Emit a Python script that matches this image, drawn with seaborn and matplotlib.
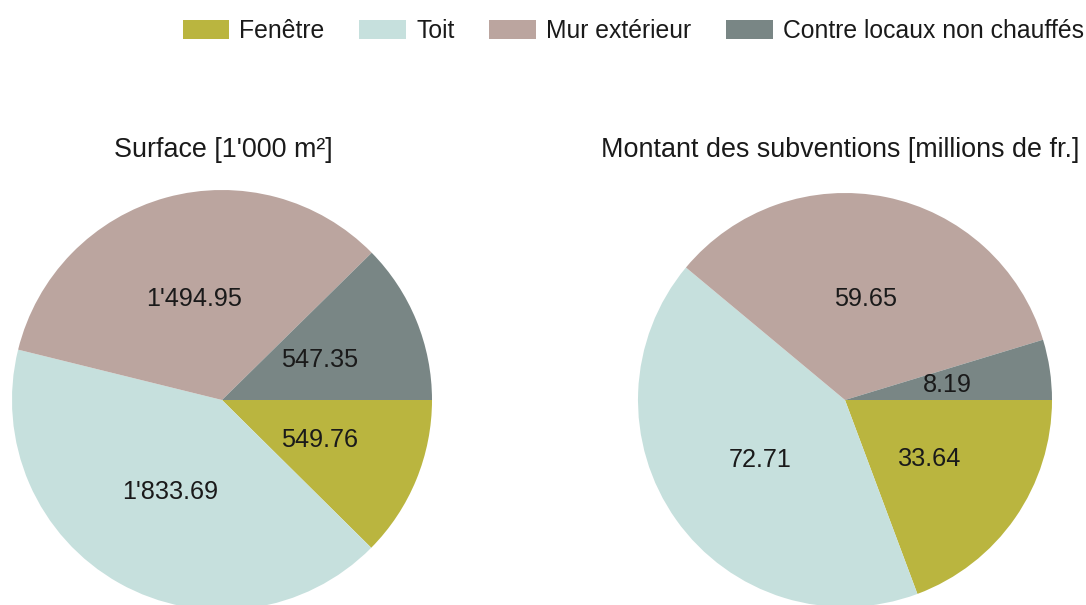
import numpy as np
import pandas as pd
import seaborn as sns
import matplotlib.pyplot as plt
from matplotlib.patches import Patch

categories = ["Fenêtre", "Toit", "Mur extérieur", "Contre locaux non chauffés"]
surface = [549.76, 1833.69, 1494.95, 547.35]
surface_labels = ["549.76", "1'833.69", "1'494.95", "547.35"]
subventions = [33.64, 72.71, 59.65, 8.19]
subventions_labels = ["33.64", "72.71", "59.65", "8.19"]
titles = ["Surface [1'000 m²]", "Montant des subventions [millions de fr.]"]

sns.set_theme(style="white")
plt.rcParams["font.family"] = ["Liberation Sans", "DejaVu Sans"]
colors = sns.color_palette(["#bab53f", "#c6e0dd", "#bba59f", "#798685"])

W, H = 1086, 605
fig = plt.figure(figsize=(W / 100, H / 100), dpi=100)

# position des camemberts en pixels (centre x, centre y, rayon, centre du titre)
pies = [(222, 400, 210, 223), (845, 400, 207, 840)]
donnees = [(surface, surface_labels), (subventions, subventions_labels)]

for (cx, cy, r, tx), (vals, labs), titre in zip(pies, donnees, titles):
    ax = fig.add_axes([(cx - r) / W, (H - cy - r) / H, 2 * r / W, 2 * r / H])
    wedges, texts = ax.pie(vals, labels=labs, colors=colors, startangle=0,
                           counterclock=False, labeldistance=0.5,
                           wedgeprops={"linewidth": 0},
                           textprops={"fontsize": 18.2, "color": "#1a1a1a",
                                      "ha": "center", "va": "center"})
    for t in texts:
        t.set_horizontalalignment("center")
    ax.set_xlim(-1, 1)
    ax.set_ylim(-1, 1)
    ax.axis("off")
    fig.text(tx / W, 1 - 150 / H, titre, ha="center", va="center",
             fontsize=19.4, color="#1a1a1a")

handles = [Patch(facecolor=c, edgecolor="none") for c in colors]
fig.legend(handles, categories, loc="center right", ncol=4,
           bbox_to_anchor=(1.0, 1 - 31 / H), frameon=False, fontsize=17.8,
           handlelength=1.9, handleheight=0.85, handletextpad=0.4,
           columnspacing=1.4, borderaxespad=0, borderpad=0.1,
           labelcolor="#1a1a1a")

plt.savefig("out.png", dpi=100)
